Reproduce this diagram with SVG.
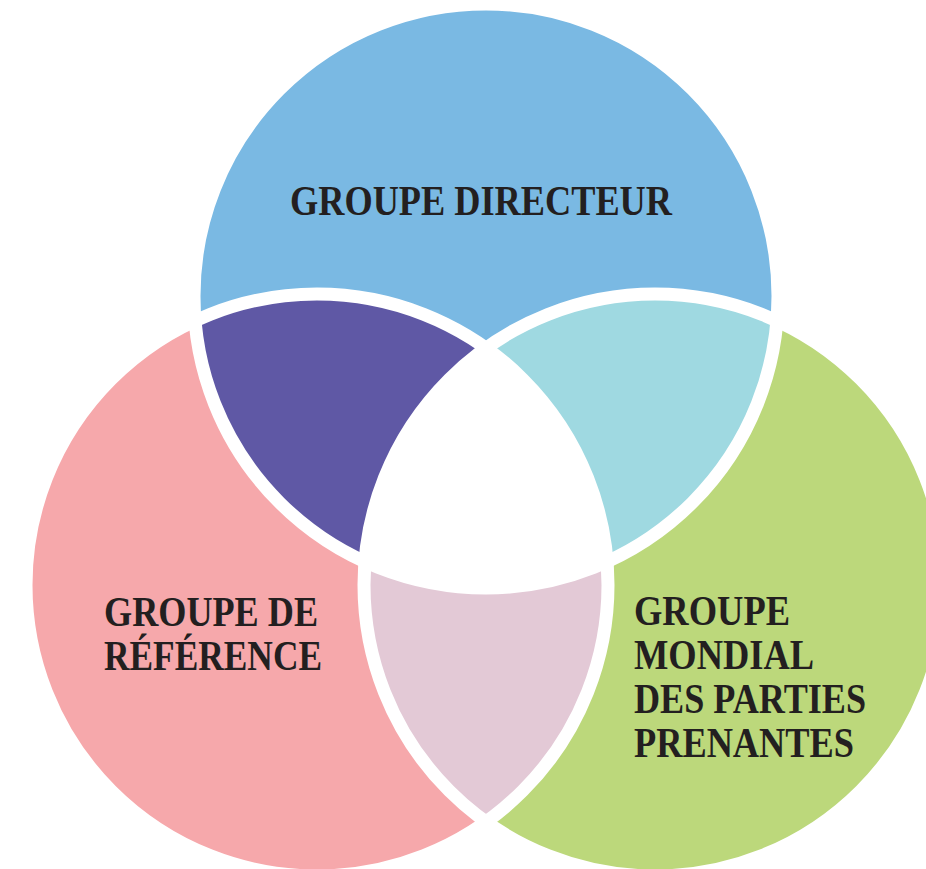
<svg xmlns="http://www.w3.org/2000/svg" width="926" height="869" viewBox="0 0 926 869">
  <style>
    .lbl { font-family: "Liberation Serif", "Times New Roman", serif; font-weight: bold; font-size: 42px; fill: #231f20; }
    .ring { fill: none; stroke: #ffffff; stroke-width: 13; }
  </style>
  <defs>
    <clipPath id="clipT"><circle cx="486" cy="296" r="292"/></clipPath>
    <clipPath id="clipL"><circle cx="317" cy="585" r="291"/></clipPath>
    <clipPath id="clipR"><circle cx="655" cy="585" r="291"/></clipPath>
  </defs>
  <rect width="926" height="869" fill="#ffffff"/>

  <g id="groupe-directeur">
    <circle cx="486" cy="296" r="292" fill="#7ab9e3"/>
  </g>
  <g id="groupe-de-reference">
    <circle cx="317" cy="585" r="291" fill="#f6a8ab"/>
  </g>
  <g id="groupe-mondial">
    <circle cx="655" cy="585" r="291" fill="#bcd87b"/>
  </g>

  <g id="overlap-directeur-reference" clip-path="url(#clipT)">
    <circle cx="317" cy="585" r="291" fill="#5f58a5"/>
  </g>
  <g id="overlap-directeur-mondial" clip-path="url(#clipT)">
    <circle cx="655" cy="585" r="291" fill="#9fd9e1"/>
  </g>
  <g id="overlap-reference-mondial" clip-path="url(#clipL)">
    <circle cx="655" cy="585" r="291" fill="#e3c9d6"/>
  </g>
  <g id="overlap-centre" clip-path="url(#clipT)">
    <g clip-path="url(#clipL)">
      <circle cx="655" cy="585" r="291" fill="#ffffff"/>
    </g>
  </g>

  <g id="outlines">
    <circle class="ring" cx="486" cy="296" r="292"/>
    <circle class="ring" cx="317" cy="585" r="291"/>
    <circle class="ring" cx="655" cy="585" r="291"/>
  </g>

  <g id="labels">
    <text class="lbl" x="290" y="215" textLength="382" lengthAdjust="spacingAndGlyphs">GROUPE DIRECTEUR</text>
    <text class="lbl" x="104" y="626" textLength="214" lengthAdjust="spacingAndGlyphs">GROUPE DE</text>
    <text class="lbl" x="104" y="670" textLength="218" lengthAdjust="spacingAndGlyphs">RÉFÉRENCE</text>
    <text class="lbl" x="634" y="625" textLength="156" lengthAdjust="spacingAndGlyphs">GROUPE</text>
    <text class="lbl" x="634" y="669" textLength="180" lengthAdjust="spacingAndGlyphs">MONDIAL</text>
    <text class="lbl" x="634" y="713" textLength="232" lengthAdjust="spacingAndGlyphs">DES PARTIES</text>
    <text class="lbl" x="634" y="757" textLength="220" lengthAdjust="spacingAndGlyphs">PRENANTES</text>
  </g>
</svg>
